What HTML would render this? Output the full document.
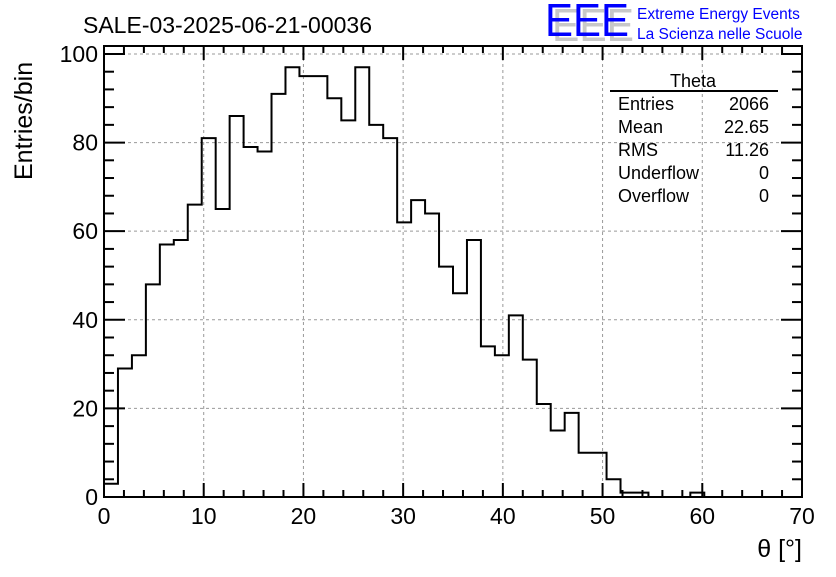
<!DOCTYPE html>
<html><head><meta charset="utf-8"><style>
body{margin:0;background:#fff}
svg text{font-family:"Liberation Sans",sans-serif}
</style></head><body>
<svg id="c" width="836" height="572" xmlns="http://www.w3.org/2000/svg">
<rect width="836" height="572" fill="#fff"/>
<text x="83" y="33" font-size="23">SALE-03-2025-06-21-00036</text>
<g>
<text x="552" y="41" font-size="46" fill="#c8c8c8" textLength="82" lengthAdjust="spacingAndGlyphs">EEE</text>
<text x="545" y="36" font-size="46" fill="#0000ff" textLength="84" lengthAdjust="spacingAndGlyphs">EEE</text>
<text x="637" y="19" font-size="15.5" fill="#0000ff">Extreme Energy Events</text>
<text x="637" y="39" font-size="15.5" fill="#0000ff">La Scienza nelle Scuole</text>
</g>
<g id="grid"></g>
<g id="axes"></g>
<path id="hist" fill="none" stroke="#000" stroke-width="2"/>
<rect x="104" y="46" width="698" height="451" fill="none" stroke="#000" stroke-width="2"/>
<g>
<text x="693" y="87" font-size="18" text-anchor="middle">Theta</text>
<line x1="610" y1="91" x2="778" y2="91" stroke="#000" stroke-width="2"/>
<g font-size="18">
<text x="618" y="110">Entries</text><text x="769" y="110" text-anchor="end">2066</text>
<text x="618" y="133">Mean</text><text x="769" y="133" text-anchor="end">22.65</text>
<text x="618" y="156">RMS</text><text x="769" y="156" text-anchor="end">11.26</text>
<text x="618" y="179">Underflow</text><text x="769" y="179" text-anchor="end">0</text>
<text x="618" y="202">Overflow</text><text x="769" y="202" text-anchor="end">0</text>
</g></g>
<text x="802" y="557" font-size="25" text-anchor="end">θ [°]</text>
<text transform="translate(32,180) rotate(-90)" font-size="25">Entries/bin</text>
</svg>
<script>
const counts=[3,29,32,48,57,58,66,81,65,86,79,78,91,97,95,95,90,85,97,84,81,62,67,64,52,46,58,34,32,41,31,21,15,19,10,10,4,1,1,0,0,0,1,0,0,0,0,0,0,0];
const xTicks=[0,10,20,30,40,50,60,70];
const yTicks=[0,20,40,60,80,100];
const xMin=0,xMax=70,yMax=101.8;
const L=104,R=802,T=46,B=497;
const sx=v=>L+(v-xMin)/(xMax-xMin)*(R-L);
const sy=v=>B-v/yMax*(B-T);
const NS="http://www.w3.org/2000/svg";
function mk(tag,at,parent){const e=document.createElementNS(NS,tag);for(const k in at)e.setAttribute(k,at[k]);parent.appendChild(e);return e;}
const grid=document.getElementById('grid'),axes=document.getElementById('axes');
xTicks.forEach(t=>{
 if(t>xMin&&t<xMax){const g=mk('line',{x1:sx(t),x2:sx(t),y1:T,y2:B,stroke:'#999','stroke-dasharray':'3,3'},grid);
 
 }
 const lb=mk('text',{x:sx(t),y:B+27,'font-size':23,'text-anchor':'middle'},axes);lb.textContent=t;
 
 
});
yTicks.forEach(t=>{
 if(t>0){const g=mk('line',{x1:L,x2:R,y1:sy(t),y2:sy(t),stroke:'#999','stroke-dasharray':'3,3'},grid);
 
 }
 const lb=mk('text',{x:L-6,y:sy(t)+8,'font-size':23,'text-anchor':'end'},axes);lb.textContent=t;
 
 
});
for(let v=0;v<=70;v+=2){const len=v%10===0?14:7;
 mk('line',{x1:sx(v),x2:sx(v),y1:B,y2:B-len,stroke:'#000','stroke-width':2},axes);
 mk('line',{x1:sx(v),x2:sx(v),y1:T,y2:T+len,stroke:'#000','stroke-width':2},axes);}
for(let v=0;v<=100;v+=4){const len=v%20===0?21:10;
 mk('line',{x1:L,x2:L+len,y1:sy(v),y2:sy(v),stroke:'#000','stroke-width':2},axes);
 mk('line',{x1:R,x2:R-len,y1:sy(v),y2:sy(v),stroke:'#000','stroke-width':2},axes);}
const w=(xMax-xMin)/counts.length;
let d='M'+sx(0)+','+sy(0);
counts.forEach((c,i)=>{d+=' L'+sx(i*w)+','+sy(c)+' L'+sx((i+1)*w)+','+sy(c);});
d+=' L'+sx(xMax)+','+sy(0);
document.getElementById('hist').setAttribute('d',d);
</script>
</body></html>
